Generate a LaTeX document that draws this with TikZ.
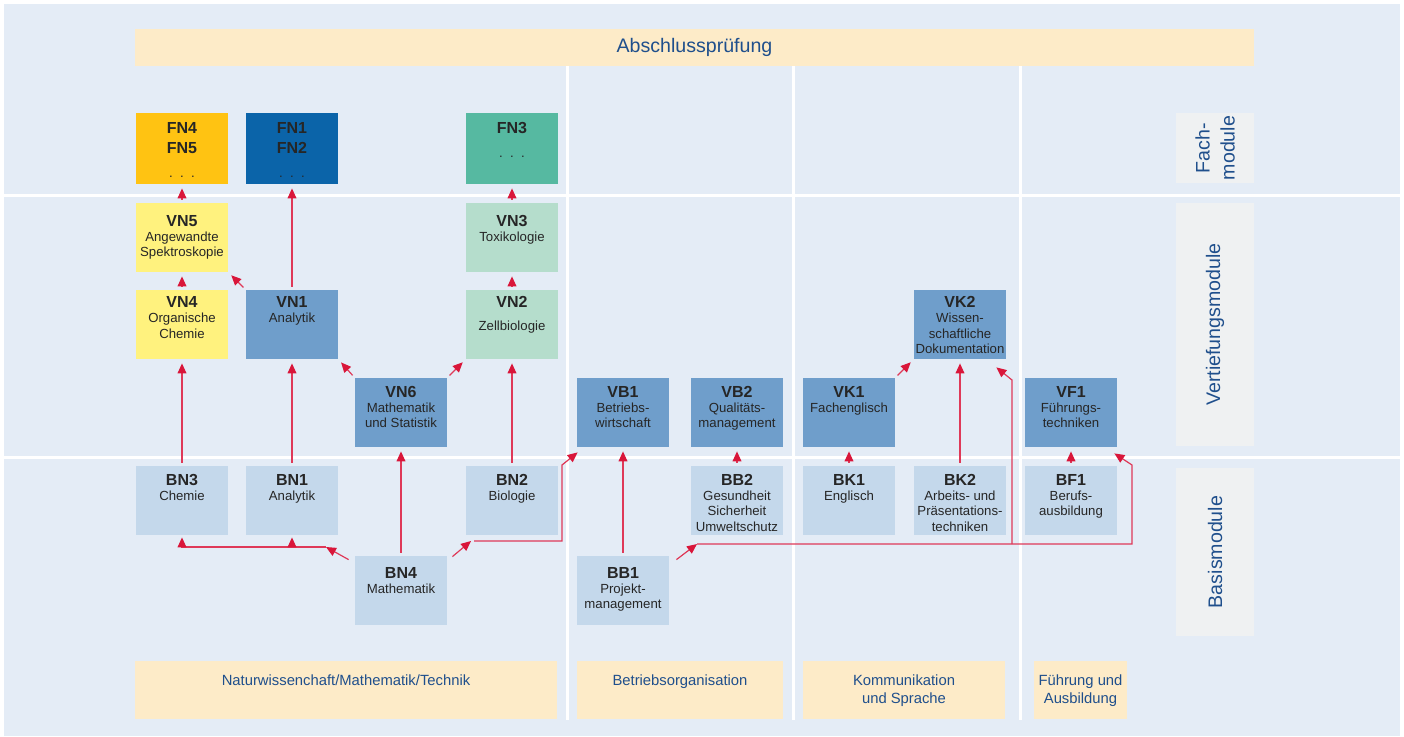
\documentclass[tikz,border=0pt]{standalone}
\usepackage{fontspec}
\setmainfont{Liberation Sans}
\usetikzlibrary{arrows.meta}

\definecolor{panelblue}{HTML}{E4ECF6}
\definecolor{cream}{HTML}{FDEBC8}
\definecolor{sidegray}{HTML}{EFF1F2}
\definecolor{fngold}{HTML}{FFC312}
\definecolor{fnblue}{HTML}{0B64A9}
\definecolor{fnteal}{HTML}{56B9A1}
\definecolor{vyellow}{HTML}{FFF27E}
\definecolor{vgreen}{HTML}{B5DDCC}
\definecolor{vblue}{HTML}{6F9ECB}
\definecolor{bblue}{HTML}{C4D8EB}
\definecolor{labelblue}{HTML}{1F4F8C}
\definecolor{arrowred}{HTML}{D9163A}

\newcommand{\modtitle}[1]{{\fontsize{8}{9.6}\selectfont\bfseries\rule{0pt}{6pt}#1}}

\begin{document}
\begin{tikzpicture}[x=0.5pt, y=-0.5pt,
    modul/.style={rectangle, minimum width=46pt, minimum height=34.5pt, inner sep=0pt},
    modtext/.style={anchor=north, align=center, inner sep=0pt, yshift=-3.5pt,
        text=black!85, font=\fontsize{6.6}{7.7}\selectfont},
    band/.style={rectangle, fill=cream, minimum height=29pt, inner sep=0pt},
    bandtext/.style={anchor=north, align=center, inner sep=0pt, yshift=-5.25pt,
        text=labelblue, font=\fontsize{7.4}{8.75}\selectfont},
    sidebox/.style={rectangle, fill=sidegray, minimum height=39pt, inner sep=0pt,
        rotate=90, align=center, text=labelblue, font=\fontsize{9.8}{12.5}\selectfont},
    divider/.style={draw=white, line width=1.5pt},
    pfeil/.style={draw=arrowred!85, line width=0.6pt,
        -{Triangle[length=5pt, width=4.4pt, color=arrowred]},
        shorten >=2pt, shorten <=1.5pt},
    bus/.style={pfeil, shorten >=0pt, shorten <=0pt}]

    % Hintergrund
    \useasboundingbox (0,0) rectangle (1404,736);
    \fill[white] (0,0) rectangle (1404,736);
    \fill[panelblue] (4,4) rectangle (1400,736);

    \node[band, minimum width=559.5pt, minimum height=18.5pt, text=labelblue,
        font=\fontsize{9.8}{12}\selectfont] (abschluss) at (694.5,47.5) {Abschlussprüfung};

    % Trennlinien
    \draw[divider] (4,195) -- (1400,195);
    \draw[divider] (4,457) -- (1400,457);
    \foreach \x in {567,793,1020}
        \draw[divider] (\x,66) -- (\x,720);

    % Ebenen
    \node[sidebox, minimum width=35pt] (fachlabel) at (1215,148) {Fach-\\module};
    \node[sidebox, minimum width=121.5pt] (vertieflabel) at (1215,324.5) {Vertiefungsmodule};
    \node[sidebox, minimum width=84pt] (basislabel) at (1215,552) {Basismodule};

    % Fachmodule
    \node[modul, fill=fngold, minimum height=35.5pt,
        label={[modtext, yshift=-0.5pt]north:{\modtitle{FN4}\\[2.4pt]\modtitle{FN5}\\[4.4pt].\ \ .\ \ .}}] (FN4) at (182,148.5) {};
    \node[modul, fill=fnblue, minimum height=35.5pt,
        label={[modtext, yshift=-0.5pt]north:{\modtitle{FN1}\\[2.4pt]\modtitle{FN2}\\[4.4pt].\ \ .\ \ .}}] (FN1) at (292,148.5) {};
    \node[modul, fill=fnteal, minimum height=35.5pt,
        label={[modtext, yshift=-0.5pt]north:{\modtitle{FN3}\\[4.4pt].\ \ .\ \ .}}] (FN3) at (512,148.5) {};

    % Vertiefungsmodule
    \node[modul, fill=vyellow,
        label={[modtext, yshift=-2pt]north:{\modtitle{VN5}\\Angewandte\\Spektroskopie}}] (VN5) at (182,237.5) {};
    \node[modul, fill=vgreen,
        label={[modtext, yshift=-2pt]north:{\modtitle{VN3}\\Toxikologie}}] (VN3) at (512,237.5) {};
    \node[modul, fill=vyellow,
        label={[modtext, yshift=0.75pt]north:{\modtitle{VN4}\\Organische\\Chemie}}] (VN4) at (182,324.5) {};
    \node[modul, fill=vblue,
        label={[modtext, yshift=0.75pt]north:{\modtitle{VN1}\\Analytik}}] (VN1) at (292,324.5) {};
    \node[modul, fill=vgreen,
        label={[modtext, yshift=0.75pt]north:{\modtitle{VN2}\\[4pt]Zellbiologie}}] (VN2) at (512,324.5) {};
    \node[modul, fill=vblue,
        label={[modtext, yshift=0.75pt]north:{\modtitle{VK2}\\Wissen-\\schaftliche\\Dokumentation}}] (VK2) at (960,324.5) {};
    \node[modul, fill=vblue,
        label={[modtext]north:{\modtitle{VN6}\\Mathematik\\und Statistik}}] (VN6) at (401,412.5) {};
    \node[modul, fill=vblue,
        label={[modtext]north:{\modtitle{VB1}\\Betriebs-\\wirtschaft}}] (VB1) at (623,412.5) {};
    \node[modul, fill=vblue,
        label={[modtext]north:{\modtitle{VB2}\\Qualitäts-\\management}}] (VB2) at (737,412.5) {};
    \node[modul, fill=vblue,
        label={[modtext]north:{\modtitle{VK1}\\Fachenglisch}}] (VK1) at (849,412.5) {};
    \node[modul, fill=vblue,
        label={[modtext]north:{\modtitle{VF1}\\Führungs-\\techniken}}] (VF1) at (1071,412.5) {};

    % Basismodule
    \node[modul, fill=bblue,
        label={[modtext]north:{\modtitle{BN3}\\Chemie}}] (BN3) at (182,500.5) {};
    \node[modul, fill=bblue,
        label={[modtext]north:{\modtitle{BN1}\\Analytik}}] (BN1) at (292,500.5) {};
    \node[modul, fill=bblue,
        label={[modtext]north:{\modtitle{BN2}\\Biologie}}] (BN2) at (512,500.5) {};
    \node[modul, fill=bblue,
        label={[modtext]north:{\modtitle{BB2}\\Gesundheit\\Sicherheit\\Umweltschutz}}] (BB2) at (737,500.5) {};
    \node[modul, fill=bblue,
        label={[modtext]north:{\modtitle{BK1}\\Englisch}}] (BK1) at (849,500.5) {};
    \node[modul, fill=bblue,
        label={[modtext]north:{\modtitle{BK2}\\Arbeits- und\\Präsentations-\\techniken}}] (BK2) at (960,500.5) {};
    \node[modul, fill=bblue,
        label={[modtext]north:{\modtitle{BF1}\\Berufs-\\ausbildung}}] (BF1) at (1071,500.5) {};
    \node[modul, fill=bblue,
        label={[modtext, yshift=-1.5pt]north:{\modtitle{BN4}\\Mathematik}}] (BN4) at (401,590.5) {};
    \node[modul, fill=bblue,
        label={[modtext, yshift=-1.5pt]north:{\modtitle{BB1}\\Projekt-\\management}}] (BB1) at (623,590.5) {};

    % Bereiche
    \node[band, minimum width=211pt,
        label={[bandtext]north:{\rule{0pt}{7pt}Naturwissenchaft/Mathematik/Technik}}] (natur) at (346,690) {};
    \node[band, minimum width=103pt,
        label={[bandtext]north:{\rule{0pt}{7pt}Betriebsorganisation}}] (betrieb) at (680,690) {};
    \node[band, minimum width=101pt,
        label={[bandtext]north:{\rule{0pt}{7pt}Kommunikation\\und Sprache}}] (komm) at (904,690) {};
    \node[band, minimum width=46.5pt,
        label={[bandtext]north:{\rule{0pt}{7pt}Führung und\\Ausbildung}}] (fuehrung) at (1080.5,690) {};

    % Pfeile
    \draw[pfeil] (VN5) -- (FN4);
    \draw[pfeil] (VN4) -- (VN5);
    \draw[pfeil] (VN1.north west) -- (VN5.south east);
    \draw[pfeil] (VN1) -- (FN1);
    \draw[pfeil] (VN2) -- (VN3);
    \draw[pfeil] (VN3) -- (FN3);
    \draw[pfeil] (BN3) -- (VN4);
    \draw[pfeil] (BN1) -- (VN1);
    \draw[pfeil] (VN6.north west) -- (VN1.south east);
    \draw[pfeil] (VN6.north east) -- (VN2.south west);
    \draw[pfeil] (BN4) -- (VN6);
    \draw[pfeil] (BN2) -- (VN2);
    \draw[pfeil] (BB1) -- (VB1);
    \draw[pfeil] (BB2) -- (VB2);
    \draw[pfeil] (BK1) -- (VK1);
    \draw[pfeil] (VK1.north east) -- (VK2.south west);
    \draw[pfeil] (BK2) -- (VK2);
    \draw[pfeil] (BF1) -- (VF1);

    % Sammelleitungen
    \coordinate (j1) at (326,547);
    \coordinate (j2) at (471,541);
    \coordinate (j3) at (697,544);
    \coordinate (k1) at (562,465);
    \coordinate (k2) at (1132,465);
    \coordinate (k3) at (1012,380);

    \draw[bus] ([shift={(-6,4)}]BN4.north west) -- (j1);
    \draw[bus] (j1) -| ([yshift=-1pt]BN3.south);
    \draw[bus] (j1 -| BN1) -- ([yshift=-1pt]BN1.south);

    \draw[bus] ([shift={(5,1)}]BN4.north east) -- (j2);
    \draw[bus] ([xshift=1.5pt]j2) -| (k1) -- ([shift={(1,5)}]VB1.south west);

    \draw[bus] ([shift={(7,4)}]BB1.north east) -- (j3);
    \draw[bus] (j3) -| (k2) -- ([shift={(-3,6)}]VF1.south east);
    \draw[bus] (j3 -| k3) -- (k3) -- ([shift={(-10,8)}]VK2.south east);

\end{tikzpicture}
\end{document}
